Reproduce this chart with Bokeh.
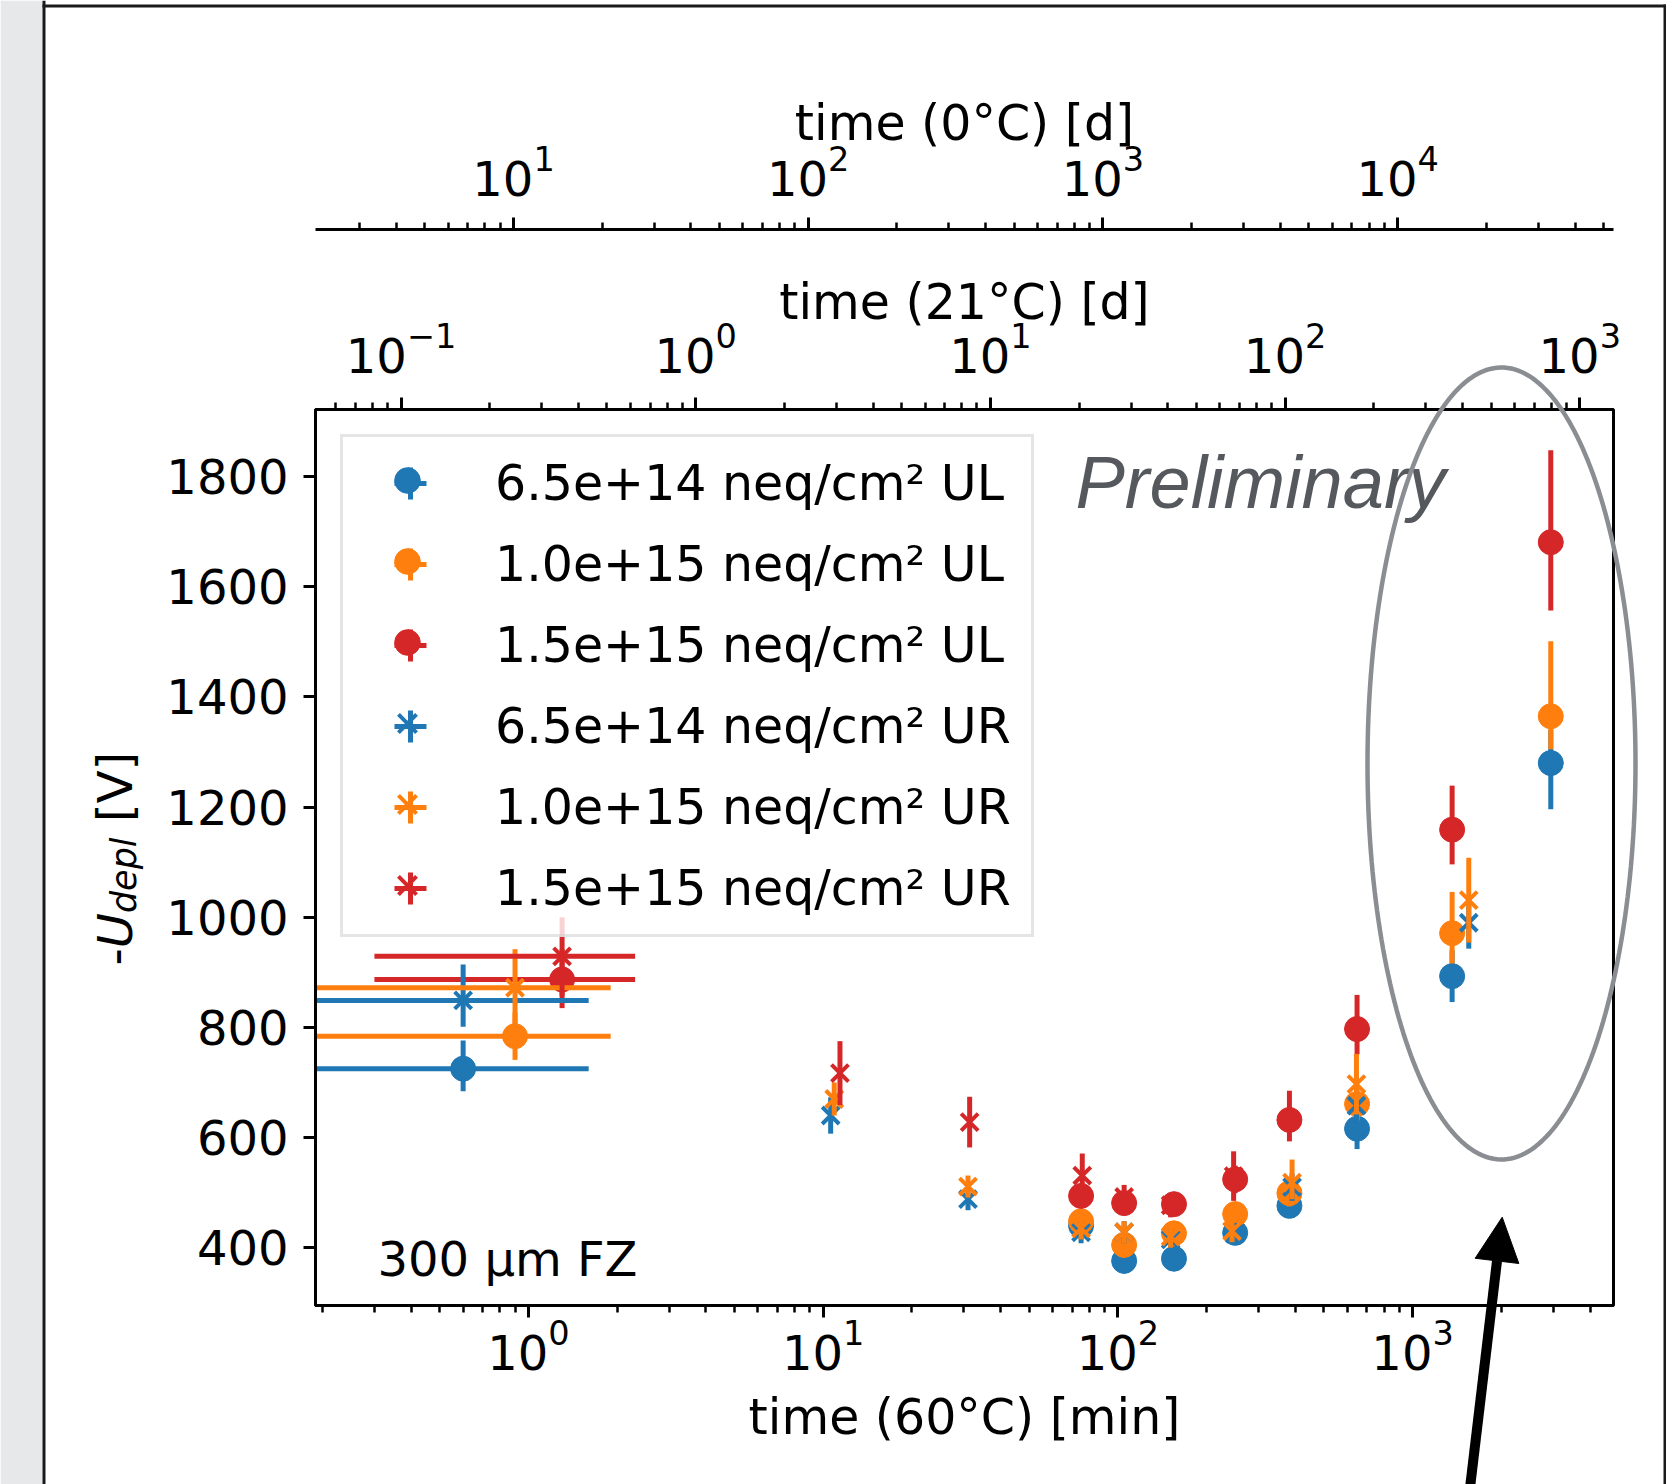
import numpy as np
from bokeh.plotting import figure
from bokeh.models import (Range1d, LogAxis, LogScale, FixedTicker, Legend, LegendItem,
                          Label, Arrow, NormalHead, PolyAnnotation)
from bokeh.layouts import column
from bokeh.embed import file_html
from bokeh.resources import INLINE

# ---------------- data ----------------
labels = ["6.5e+14 neq/cm² UL", "1.0e+15 neq/cm² UL", "1.5e+15 neq/cm² UL",
          "6.5e+14 neq/cm² UR", "1.0e+15 neq/cm² UR", "1.5e+15 neq/cm² UR"]
colors = ["#1f77b4", "#ff7f0e", "#d62728", "#1f77b4", "#ff7f0e", "#d62728"]
markers = ["circle", "circle", "circle", "x", "x", "x"]

# annealing time at 60 C [min]
t_ul_650 = [0.6, 75, 105, 155, 250, 382, 648, 1362, 2944]
t_ul_100 = [0.9, 75, 105, 155, 250, 382, 648, 1362, 2944]
t_ul_150 = [1.3, 75, 105, 155, 250, 382, 648, 1362, 2944]
t_ur_650 = [0.6, 10.6, 31.0, 75, 105, 151, 249, 390, 645, 1551]
t_ur_100 = [0.9, 10.9, 31.0, 75, 105, 151, 244, 390, 645, 1551]
t_ur_150 = [1.3, 11.4, 31.4, 75.7, 105, 151, 247]

# -U_depl [V]
u_ul_650 = [725, 440, 376, 380, 427, 476, 616, 893, 1280]
u_ul_100 = [784, 448, 405, 426, 461, 499, 661, 971, 1365]
u_ul_150 = [887, 494, 481, 479, 524, 632, 797, 1159, 1681]
u_ur_650 = [849, 640, 488, 428, 428, 415, 425, 510, 658, 990]
u_ur_100 = [872, 670, 511, 435, 428, 420, 430, 518, 697, 1031]
u_ur_150 = [929, 717, 628, 531, 492, 477, 530]

# lower / upper voltage errors
lo_ul_650 = [41, 20, 20, 20, 20, 22, 37, 47, 84]
hi_ul_650 = [51, 20, 20, 20, 22, 22, 37, 47, 60]
lo_ul_100 = [43, 22, 20, 20, 22, 24, 30, 55, 60]
hi_ul_100 = [43, 22, 20, 20, 22, 24, 30, 75, 136]
lo_ul_150 = [52, 22, 20, 20, 25, 39, 46, 63, 124]
hi_ul_150 = [55, 22, 20, 20, 25, 53, 62, 80, 167]
lo_ur_650 = [48, 33, 20, 20, 20, 20, 20, 25, 30, 47]
hi_ur_650 = [65, 33, 20, 20, 20, 20, 20, 25, 30, 47]
lo_ur_100 = [70, 30, 20, 20, 20, 20, 20, 30, 55, 77]
hi_ur_100 = [70, 30, 20, 20, 20, 20, 20, 42, 55, 77]
lo_ur_150 = [71, 58, 46, 40, 22, 22, 45]
hi_ur_150 = [71, 58, 46, 40, 22, 22, 45]

# time errors [min]
xe_ul_650 = [1.0, 0, 0, 0, 0, 0, 0, 0, 0]
xe_ul_100 = [1.0, 0, 0, 0, 0, 0, 0, 0, 0]
xe_ul_150 = [1.0, 0, 0, 0, 0, 0, 0, 0, 0]
xe_ur_650 = [1.0, 0, 0, 0, 0, 0, 0, 0, 0, 0]
xe_ur_100 = [1.0, 0, 0, 0, 0, 0, 0, 0, 0, 0]
xe_ur_150 = [1.0, 0, 0, 0, 0, 0, 0]

series = [
    (t_ul_650, u_ul_650, lo_ul_650, hi_ul_650, xe_ul_650),
    (t_ul_100, u_ul_100, lo_ul_100, hi_ul_100, xe_ul_100),
    (t_ul_150, u_ul_150, lo_ul_150, hi_ul_150, xe_ul_150),
    (t_ur_650, u_ur_650, lo_ur_650, hi_ur_650, xe_ur_650),
    (t_ur_100, u_ur_100, lo_ur_100, hi_ur_100, xe_ur_100),
    (t_ur_150, u_ur_150, lo_ur_150, hi_ur_150, xe_ur_150),
]

# time conversion factors of the secondary axes (days per minute at 60 C)
F21 = 0.2708
F0 = 11.24

y_ticks = [400, 600, 800, 1000, 1200, 1400, 1600, 1800]

# ---------------- layout geometry ----------------
X0, X1 = 0.1893, 4806.0
Y0, Y1 = 295.0, 1922.0
W, H = 1666, 1484
FL, FR, FT, FB = 315, 1613, 409, 1305     # frame edges on the page (px)


def xd(px):
    return 10 ** (np.log10(X0) + (px - FL) / (FR - FL) * np.log10(X1 / X0))


def yd(py):
    return Y1 - (py - FT) / (FB - FT) * (Y1 - Y0)


FONT = "DejaVu Sans"
TICK_FS = "48px"
LAB_FS = "49px"
MID = 0.346   # baseline-to-middle offset (em) of DejaVu / Liberation

fig = figure(width=W, height=H, x_axis_type="log",
             x_range=Range1d(X0, X1), y_range=Range1d(Y0, Y1),
             min_border_left=FL, min_border_right=W - FR,
             min_border_top=FT, min_border_bottom=H - FB,
             output_backend="svg", toolbar_location=None)
fig.xgrid.visible = False
fig.ygrid.visible = False
fig.outline_line_color = "black"
fig.outline_line_width = 3
fig.background_fill_color = "white"
fig.border_fill_color = "white"

decades = [10.0 ** e for e in range(-3, 7)]
minors = [m * 10.0 ** e for e in range(-3, 7) for m in range(2, 10)]


def style_axis(ax):
    ax.axis_line_width = 3
    ax.axis_line_color = "black"
    ax.major_tick_line_width = 3
    ax.minor_tick_line_width = 2.5
    ax.major_tick_out = 12
    ax.major_tick_in = 0
    ax.minor_tick_out = 7
    ax.minor_tick_in = 0
    ax.major_label_text_font = FONT
    ax.major_label_text_font_size = TICK_FS
    ax.major_label_text_color = "black"
    ax.axis_label_text_font = FONT
    ax.axis_label_text_font_size = LAB_FS
    ax.axis_label_text_font_style = "normal"
    ax.axis_label_text_color = "black"


# bottom axis (60 C)
xa = fig.xaxis[0]
style_axis(xa)
xa.ticker = FixedTicker(ticks=decades, minor_ticks=minors)
xa.axis_label = "time (60°C) [min]"
xa.major_label_standoff = 1
xa.axis_label_standoff = 16

# left axis
ya = fig.yaxis[0]
style_axis(ya)
ya.ticker = FixedTicker(ticks=y_ticks)
ya.minor_tick_line_color = None
ya.major_label_standoff = 15

# secondary time axes on top
fig.extra_x_ranges = {"d21": Range1d(X0 * F21, X1 * F21), "d0": Range1d(X0 * F0, X1 * F0)}
fig.extra_x_scales = {"d21": LogScale(), "d0": LogScale()}

ax21 = LogAxis(x_range_name="d21", ticker=FixedTicker(ticks=decades, minor_ticks=minors),
               axis_label="time (21°C) [d]")
style_axis(ax21)
ax21.major_label_standoff = 25
ax21.axis_label_standoff = -12
fig.add_layout(ax21, "above")

spacer = LogAxis(x_range_name="d21", ticker=FixedTicker(ticks=[], minor_ticks=[]),
                 axis_label=" ")
spacer.axis_line_color = None
spacer.major_tick_line_color = None
spacer.minor_tick_line_color = None
spacer.major_tick_out = 0
spacer.major_tick_in = 0
spacer.minor_tick_out = 0
spacer.major_label_standoff = 0
spacer.axis_label_text_font_size = "20px"
spacer.axis_label_standoff = 16
fig.add_layout(spacer, "above")

ax0 = LogAxis(x_range_name="d0", ticker=FixedTicker(ticks=decades, minor_ticks=minors),
              axis_label="time (0°C) [d]")
style_axis(ax0)
ax0.major_label_standoff = 22
ax0.axis_label_standoff = -10
fig.add_layout(ax0, "above")

# ---------------- data glyphs ----------------
marker_renderers = []
for (t, u, lo, hi, xe), c, mk in zip(series, colors, markers):
    t = np.array(t, float)
    u = np.array(u, float)
    lo = np.array(lo, float)
    hi = np.array(hi, float)
    xe = np.array(xe, float)
    fig.segment(x0=t, y0=u - lo, x1=t, y1=u + hi, line_color=c, line_width=5)
    m = xe > 0
    if m.any():
        left = np.where(t[m] - xe[m] > 0, t[m] - xe[m], X0 * 0.5)
        fig.segment(x0=left, y0=u[m], x1=t[m] + xe[m], y1=u[m], line_color=c, line_width=5)
    if mk == "circle":
        r = fig.scatter(x=t, y=u, marker="circle", size=25, fill_color=c, line_color=c, line_width=1)
    else:
        r = fig.scatter(x=t, y=u, marker="x", size=24, line_color=c, line_width=4)
    marker_renderers.append(r)

# legend: box + labels + error-bar crosses, then the markers on top
cross_renderers = [fig.scatter(x=[np.nan], y=[np.nan], marker="cross", size=10,
                               line_color=c, line_width=5) for c in colors]
legA = Legend(items=[LegendItem(label=lab, renderers=[cr]) for lab, cr in zip(labels, cross_renderers)],
              location="top_left", margin=25, padding=6, spacing=1,
              glyph_width=122, glyph_height=80, label_height=80, label_width=530,
              label_standoff=24, label_text_font=FONT, label_text_font_size="49px",
              label_text_color="black",
              border_line_color="#cccccc", border_line_width=3,
              background_fill_color="white", background_fill_alpha=0.8)
fig.add_layout(legA, "center")
legB = Legend(items=[LegendItem(label=" ", renderers=[mr]) for mr in marker_renderers],
              location="top_left", margin=25, padding=14, spacing=17,
              glyph_width=106, glyph_height=64, label_height=64, label_width=0,
              label_standoff=0, label_text_font_size="49px",
              border_line_color="white", border_line_alpha=0, background_fill_alpha=0)
fig.add_layout(legB, "center")

# ---------------- in-frame texts ----------------
fig.add_layout(Label(x=xd(1075), y=yd(508 - MID * 74), text="Preliminary",
                     text_font="Liberation Sans", text_font_style="italic",
                     text_font_size="74px", text_color="#55595e",
                     text_align="left", text_baseline="middle"))
fig.add_layout(Label(x=xd(377), y=yd(1275 - MID * 48), text="300 µm FZ", text_font=FONT,
                     text_font_size="48px", text_color="black",
                     text_align="left", text_baseline="middle"))

# ---------------- transparent overlay (slide frame, y title, ellipse, arrow) ----------------
ov = figure(width=W, height=H, x_axis_type="log",
            x_range=Range1d(xd(0), xd(W)), y_range=Range1d(yd(H), yd(0)),
            x_axis_location=None, y_axis_location=None,
            min_border_left=0, min_border_right=0, min_border_top=0, min_border_bottom=0,
            output_backend="svg", toolbar_location=None)
ov.xgrid.visible = False
ov.ygrid.visible = False
ov.outline_line_color = None
ov.background_fill_alpha = 0
ov.border_fill_alpha = 0
ov.margin = (-H, 0, 0, 0)
if "frame_align" in ov.properties():
    ov.frame_align = False
    fig.frame_align = False
else:
    ov.x_range = Range1d(X0, X1)


def rect(l, r_, t_, b_, color):
    ov.add_layout(PolyAnnotation(xs=[xd(l), xd(r_), xd(r_), xd(l)],
                                 ys=[yd(t_), yd(t_), yd(b_), yd(b_)],
                                 fill_color=color, fill_alpha=1, line_color=None))


rect(0, 42, 0, H, "#e7e8ea")        # grey strip
rect(42, 45, 0, H, "#1a1a1a")       # slide border left
rect(42, W, 4, 7, "#1a1a1a")        # slide border top
rect(W - 3, W, 4, H, "#1a1a1a")     # slide border right

# y-axis title  -U_depl [V]  (rotated pieces)
YL_BASE = 131
ylabel_parts = [("-", "normal", 48, 0, 965),
                ("U", "italic", 48, 0, 947.7),
                ("depl", "italic", 35, 5, 912.6),
                ("[V]", "normal", 48, 0, 821.6)]
for txt, style, size, dx, py in ylabel_parts:
    ov.add_layout(Label(x=xd(YL_BASE + dx - MID * size), y=yd(py), text=txt, text_font=FONT,
                        text_font_style=style, text_font_size=f"{size}px", text_color="black",
                        angle=np.pi / 2, text_align="left", text_baseline="middle"))

ELL_CX, ELL_CY, ELL_RX, ELL_RY = 1501, 763, 134, 396
th = np.linspace(0, 2 * np.pi, 240)
ov.add_layout(PolyAnnotation(xs=[float(xd(ELL_CX + ELL_RX * np.cos(a))) for a in th],
                             ys=[float(yd(ELL_CY + ELL_RY * np.sin(a))) for a in th],
                             fill_alpha=0, line_color="#8a8d91", line_alpha=1, line_width=4.5))
ov.add_layout(Arrow(x_start=xd(1468), y_start=yd(1500), x_end=xd(1501.7), y_end=yd(1216.7),
                    line_color="black", line_width=10,
                    end=NormalHead(size=44, fill_color="black", line_color="black", line_width=1)))

p = column(fig, ov, spacing=0)
open("out.html", "w").write(file_html(p, INLINE))
